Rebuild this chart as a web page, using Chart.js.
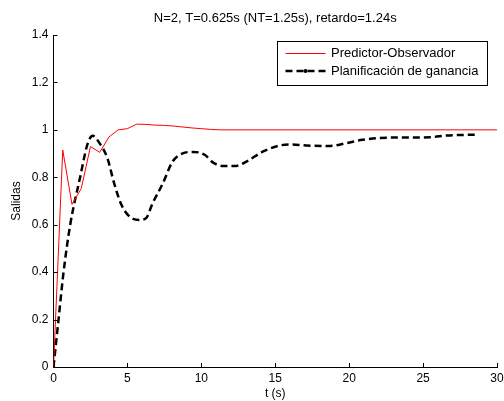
<!DOCTYPE html>
<html lang="es">
<head>
<meta charset="UTF-8">
<title>Salidas - Predictor-Observador vs Planificación de ganancia</title>
<script src="https://cdn.jsdelivr.net/npm/chart.js@4.4.0/dist/chart.umd.min.js"></script>
<style>
    body { margin: 0; background: #fff; }
    #wrap { width: 504px; height: 401px; }
</style>
</head>
<body>
<div id="wrap"><canvas id="chart" width="504" height="401"></canvas></div>
<script>
// Data
const titleText = 'N=2, T=0.625s (NT=1.25s), retardo=1.24s';
const xTicks = [0, 5, 10, 15, 20, 25, 30];
const yTicks = [0, 0.2, 0.4, 0.6, 0.8, 1, 1.2, 1.4];

const predT = [0, 0.625, 1.25, 1.875, 2.5, 3.125, 3.75, 4.375, 5, 5.625, 6.25, 6.875, 7.5, 8.125, 8.75, 9.375, 10, 10.625, 11.25, 30];
const predY = [0, 0.915, 0.686, 0.752, 0.93, 0.905, 0.97, 1.0, 1.005, 1.024, 1.023, 1.02, 1.019, 1.016, 1.012, 1.008, 1.005, 1.002, 1.0, 1.0];

const planT = [0, 0.34, 0.68, 1.13, 1.8, 2.3, 2.65, 3.1, 3.65, 4.1, 4.6, 5.15, 5.8, 6.25, 6.7, 7.4, 8.05, 8.7, 9.45, 10.2, 10.8, 11.45, 12.35, 13.05, 14.15, 15.3, 16, 17.1, 18.7, 19.8, 20.9, 22.1, 24.3, 25.5, 26.6, 28.6];
const planY = [0, 0.2, 0.4, 0.6, 0.8, 0.94, 0.975, 0.945, 0.88, 0.775, 0.683, 0.634, 0.62, 0.627, 0.69, 0.775, 0.866, 0.9, 0.907, 0.896, 0.862, 0.848, 0.848, 0.866, 0.908, 0.934, 0.938, 0.934, 0.932, 0.944, 0.958, 0.966, 0.968, 0.969, 0.976, 0.98];

const legendLabels = ['Predictor-Observador', 'Planificación de ganancia'];

const FONT = 'Liberation Sans, Arial, sans-serif';

function toPoints(xs, ys) {
    return xs.map((x, i) => ({ x: x, y: ys[i] }));
}

// inward ticks, centred title and boxed legend (MATLAB look)
const matlabLook = {
    id: 'matlabLook',
    afterDraw(chart) {
        const ctx = chart.ctx;
        const area = chart.chartArea;
        const xs = chart.scales.x, ys = chart.scales.y;
        ctx.save();
        ctx.strokeStyle = '#000';
        ctx.lineWidth = 1;
        ctx.beginPath();
        xTicks.forEach(v => {
            const px = Math.round(xs.getPixelForValue(v)) + 0.5;
            ctx.moveTo(px, area.bottom);
            ctx.lineTo(px, area.bottom - 4);
        });
        yTicks.forEach(v => {
            const py = Math.round(ys.getPixelForValue(v)) + 0.5;
            ctx.moveTo(area.left, py);
            ctx.lineTo(area.left + 4, py);
        });
        ctx.stroke();

        // title
        ctx.fillStyle = '#000';
        ctx.font = '13px ' + FONT;
        ctx.textAlign = 'center';
        ctx.textBaseline = 'middle';
        ctx.fillText(titleText, (area.left + area.right) / 2, 18.5);

        // legend
        const bx = area.right - 219.5, by = area.top + 6.5, bw = 210, bh = 44;
        ctx.fillStyle = '#fff';
        ctx.fillRect(bx, by, bw, bh);
        ctx.strokeRect(bx, by, bw, bh);
        const ds = chart.data.datasets;
        const rows = [by + 12, by + 29.5];
        ds.forEach((d, i) => {
            ctx.strokeStyle = d.borderColor;
            ctx.lineWidth = d.borderWidth;
            ctx.setLineDash(d.borderDash || []);
            ctx.beginPath();
            ctx.moveTo(bx + 8, rows[i]);
            ctx.lineTo(bx + 48, rows[i]);
            ctx.stroke();
            ctx.setLineDash([]);
            if (i === 1) {
                ctx.fillStyle = '#000';
                ctx.beginPath();
                ctx.arc(bx + 28, rows[i], 2, 0, Math.PI * 2);
                ctx.fill();
            }
            ctx.fillStyle = '#000';
            ctx.textAlign = 'left';
            ctx.fillText(legendLabels[i], bx + 53.5, rows[i]);
        });
        ctx.restore();
    }
};

new Chart(document.getElementById('chart'), {
    type: 'line',
    data: {
        datasets: [{
            label: legendLabels[0],
            data: toPoints(predT, predY),
            borderColor: '#ff0000',
            borderWidth: 1,
            pointRadius: 0,
            tension: 0
        }, {
            label: legendLabels[1],
            data: toPoints(planT, planY),
            borderColor: '#000000',
            borderWidth: 2.5,
            borderDash: [7, 4],
            pointRadius: 0,
            cubicInterpolationMode: 'monotone'
        }]
    },
    options: {
        responsive: false,
        animation: false,
        layout: { padding: { top: 35, right: 7, left: 0, bottom: 0 } },
        plugins: {
            legend: { display: false },
            title: { display: false },
            tooltip: { enabled: false }
        },
        scales: {
            x: {
                type: 'linear',
                min: 0,
                max: 30,
                afterBuildTicks: s => { s.ticks = xTicks.map(v => ({ value: v })); },
                afterFit: s => { s.height = 34; s.paddingLeft = 0; s.paddingRight = 0; },
                grid: { drawOnChartArea: false, drawTicks: false },
                border: { display: true, color: '#000', width: 1 },
                ticks: { color: '#000', font: { family: FONT, size: 12 }, padding: 4, maxRotation: 0 },
                title: { display: true, text: 't (s)', color: '#000', font: { family: FONT, size: 12 }, padding: { top: 0, bottom: 0 } }
            },
            y: {
                min: 0,
                max: 1.4,
                afterBuildTicks: s => { s.ticks = yTicks.map(v => ({ value: v })); },
                afterFit: s => { s.width = 53.5; s.paddingTop = 0; s.paddingBottom = 0; },
                grid: { drawOnChartArea: false, drawTicks: false },
                border: { display: true, color: '#000', width: 1 },
                ticks: {
                    color: '#000',
                    font: { family: FONT, size: 12 },
                    padding: 5,
                    callback: v => String(+v.toFixed(1))
                },
                title: { display: true, text: 'Salidas', color: '#000', font: { family: FONT, size: 12 }, padding: { top: 9, bottom: 0 } }
            }
        }
    },
    plugins: [matlabLook]
});
</script>
</body>
</html>
